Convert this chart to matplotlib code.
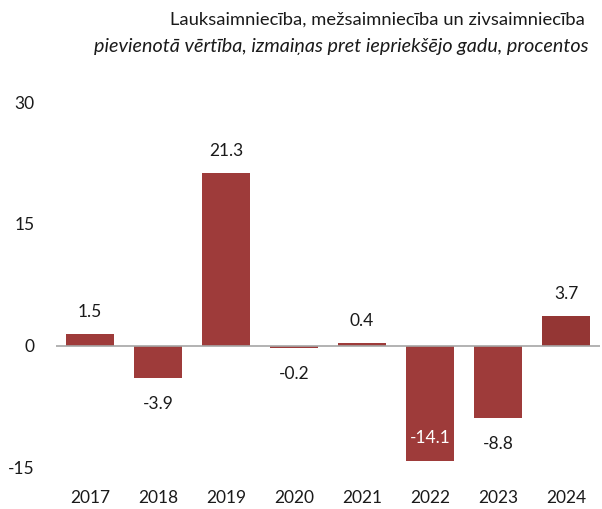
import matplotlib
matplotlib.use("Agg")
import matplotlib.pyplot as plt

# pievienotā vērtība, pārmaiņas % pret iepriekšējo gadu
years = ["2017", "2018", "2019", "2020", "2021", "2022", "2023", "2024"]
values = [1.5, -3.9, 21.3, -0.2, 0.4, -14.1, -8.8, 3.7]
bar_colors = ["#9E3B3A"] * 7 + ["#943634"]

plt.rcParams['font.family'] = ['Lato', 'DejaVu Sans']

fig = plt.figure(figsize=(6.02, 5.09), dpi=100)
ax = fig.add_axes([0.093, 0.0806, 0.904, 0.719])

x = range(len(years))
ax.bar(x, values, 0.7, color=bar_colors, zorder=2)
ax.axhline(0, color="#A6A6A6", lw=1.2, zorder=3)

ax.set_xlim(-0.5, 7.5)
ax.set_ylim(-15, 30)
ax.set_yticks([-15, 0, 15, 30])
ax.set_yticklabels(["-15", "0", "15", "30"])
ax.set_xticks(list(x))
ax.set_xticklabels(years)
ax.tick_params(axis="y", length=0, pad=15.5, labelsize=12.5, colors="#1a1a1a")
ax.tick_params(axis="x", length=0, pad=16, labelsize=12.5, colors="#1a1a1a")
for s in ax.spines.values():
    s.set_visible(False)

# vērtību uzraksti
for i, v in enumerate(values):
    if v == min(values):
        ax.annotate(f"{v:.1f}", (i, v), xytext=(0, 16), textcoords="offset points",
                    ha="center", va="center", color="white", fontsize=12.5)
    elif v >= 0:
        ax.annotate(f"{v:.1f}", (i, v), xytext=(0, 10), textcoords="offset points",
                    ha="center", va="bottom", color="#1a1a1a", fontsize=12.5)
    else:
        ax.annotate(f"{v:.1f}", (i, v), xytext=(0, -13), textcoords="offset points",
                    ha="center", va="top", color="#1a1a1a", fontsize=12.5)

fig.text(0.972, 0.962, "Lauksaimniecība, mežsaimniecība un zivsaimniecība",
         ha="right", va="center", fontsize=13.2, color="#1a1a1a")
fig.text(0.977, 0.908, "pievienotā vērtība, izmaiņas pret iepriekšējo gadu, procentos",
         ha="right", va="center", fontsize=14.2, style="italic", color="#1a1a1a")

fig.savefig("out.png", dpi=100)
